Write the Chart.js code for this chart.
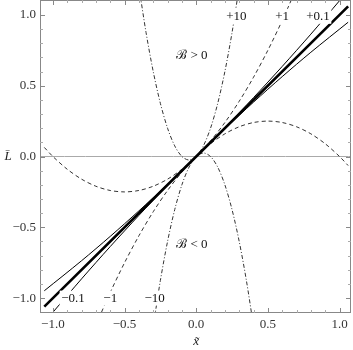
<!DOCTYPE html>
<html><head><meta charset="utf-8">
<script src="https://cdn.jsdelivr.net/npm/chart.js@4.4.1/dist/chart.umd.min.js"></script>
<style>html,body{margin:0;padding:0;background:#fff}#wrap{width:353px;height:350px}</style>
</head><body><div id="wrap"><canvas id="c"></canvas></div>
<script>
// ---- data ----
const majorTicks = [-1, -0.5, 0, 0.5, 1];
const minorTicks = [-0.9, -0.8, -0.7, -0.6, -0.4, -0.3, -0.2, -0.1, 0.1, 0.2, 0.3, 0.4, 0.6, 0.7, 0.8, 0.9];

const zeroX = [-1.2, 1.2];
const zeroY = [0, 0];

const thickX = [-1.06, 1.06];
const thickY = [-1.06, 1.06];

const bPlus01X  = [-1.06, -0.8, -0.6, -0.4, -0.2, 0, 0.2, 0.4, 0.6, 0.8, 1.0, 1.06];
const bPlus01Y  = [-0.948, -0.736, -0.564, -0.384, -0.196, 0, 0.204, 0.416, 0.636, 0.864, 1.1, 1.172];
const bMinus01X = [-1.06, -1.0, -0.8, -0.6, -0.4, -0.2, 0, 0.2, 0.4, 0.6, 0.8, 1.06];
const bMinus01Y = [-1.172, -1.1, -0.864, -0.636, -0.416, -0.204, 0, 0.196, 0.384, 0.564, 0.736, 0.948];

const bPlus1X  = [-1.06, -1.0, -0.9, -0.8, -0.7, -0.6, -0.5, -0.4, -0.3, -0.2, -0.1, 0, 0.1, 0.2, 0.3, 0.4, 0.5, 0.6, 0.7];
const bPlus1Y  = [0.064, 0, -0.09, -0.16, -0.21, -0.24, -0.25, -0.24, -0.21, -0.16, -0.09, 0, 0.11, 0.24, 0.39, 0.56, 0.75, 0.96, 1.19];
const bMinus1X = [-0.7, -0.6, -0.5, -0.4, -0.3, -0.2, -0.1, 0, 0.1, 0.2, 0.3, 0.4, 0.5, 0.6, 0.7, 0.8, 0.9, 1.0, 1.06];
const bMinus1Y = [-1.19, -0.96, -0.75, -0.56, -0.39, -0.24, -0.11, 0, 0.09, 0.16, 0.21, 0.24, 0.25, 0.24, 0.21, 0.16, 0.09, 0, -0.064];

const bPlus10X  = [-0.40, -0.35, -0.30, -0.25, -0.20, -0.15, -0.10, -0.05, 0, 0.05, 0.10, 0.15, 0.20, 0.25, 0.30];
const bPlus10Y  = [1.2, 0.875, 0.6, 0.375, 0.2, 0.075, 0, -0.025, 0, 0.075, 0.2, 0.375, 0.6, 0.875, 1.2];
const bMinus10X = [-0.30, -0.25, -0.20, -0.15, -0.10, -0.05, 0, 0.05, 0.10, 0.15, 0.20, 0.25, 0.30, 0.35, 0.40];
const bMinus10Y = [-1.2, -0.875, -0.6, -0.375, -0.2, -0.075, 0, 0.025, 0, -0.075, -0.2, -0.375, -0.6, -0.875, -1.2];

const labelTexts = ['+10', '+1', '+0.1', '\u22120.1', '\u22121', '\u221210', '\u212C > 0', '\u212C < 0'];
const labelX = [0.28, 0.60, 0.85, -0.86, -0.60, -0.29, -0.03, -0.03];
const labelY = [0.99, 0.99, 0.99, -1.0, -1.0, -1.0, 0.71, -0.62];

// ---- build ----
const pts = (xs, ys) => xs.map((v, i) => ({x: v, y: ys[i]}));
const serif = '"Liberation Serif", "Times New Roman", Times, serif';
const fmt = v => (v < 0 ? '\u2212' : '') + Math.abs(v).toFixed(1);

function ds(xs, ys, width, dash, color, order) {
  return {data: pts(xs, ys), showLine: true, pointRadius: 0, borderColor: color || '#000',
    borderWidth: width, borderDash: dash || [], tension: 0.3, clip: 0, order: order || 0};
}

const overlay = {
  id: 'overlay',
  afterDatasetsDraw(chart) {
    const {ctx, chartArea: a, scales: {x, y}} = chart;
    ctx.save();
    ctx.font = '13px ' + serif;
    ctx.textAlign = 'center';
    ctx.textBaseline = 'middle';
    labelTexts.forEach((t, i) => {
      const px = x.getPixelForValue(labelX[i]), py = y.getPixelForValue(labelY[i]);
      const w = ctx.measureText(t).width;
      ctx.fillStyle = '#fff';
      ctx.fillRect(px - w / 2 - 1.5, py - 7.5, w + 3, 15);
      ctx.fillStyle = '#111';
      ctx.fillText(t, px, py);
    });
    ctx.strokeStyle = '#888';
    ctx.lineWidth = 1;
    ctx.strokeRect(Math.round(a.left) + 0.5, Math.round(a.top) + 0.5, Math.round(a.right - a.left) - 1, Math.round(a.bottom - a.top) - 1);
    const drawTicks = (vals, len) => {
      ctx.beginPath();
      vals.forEach(v => {
        const px = Math.round(x.getPixelForValue(v)) + 0.5;
        ctx.moveTo(px, a.bottom); ctx.lineTo(px, a.bottom - len);
        ctx.moveTo(px, a.top); ctx.lineTo(px, a.top + len);
        const py = Math.round(y.getPixelForValue(v)) + 0.5;
        ctx.moveTo(a.left, py); ctx.lineTo(a.left + len, py);
        ctx.moveTo(a.right, py); ctx.lineTo(a.right - len, py);
      });
      ctx.stroke();
    };
    ctx.strokeStyle = '#888';
    drawTicks(majorTicks, 5);
    ctx.strokeStyle = '#aaa';
    drawTicks(minorTicks, 3);
    ctx.fillStyle = '#222';
    ctx.font = 'italic 13px ' + serif;
    ctx.fillText('L\u0304', 8, y.getPixelForValue(0));
    ctx.fillText('x\u0303', x.getPixelForValue(0), 342);
    ctx.restore();
  }
};

new Chart(document.getElementById('c'), {
  type: 'scatter',
  data: {datasets: [
    ds(zeroX, zeroY, 1, [], '#aaa', 10),
    ds(bPlus10X, bPlus10Y, 1, [4, 2, 1, 2], '#333', 5),
    ds(bMinus10X, bMinus10Y, 1, [4, 2, 1, 2], '#333', 5),
    ds(bPlus1X, bPlus1Y, 1, [4, 3], '#333', 4),
    ds(bMinus1X, bMinus1Y, 1, [4, 3], '#333', 4),
    ds(bPlus01X, bPlus01Y, 1, [], '#000', 3),
    ds(bMinus01X, bMinus01Y, 1, [], '#000', 3),
    ds(thickX, thickY, 2.6, [], '#000', 1)
  ]},
  options: {
    responsive: true, maintainAspectRatio: false, animation: false,
    devicePixelRatio: 1,
    layout: {padding: {top: 0, right: 2, left: 0, bottom: 0}},
    plugins: {legend: {display: false}, tooltip: {enabled: false}},
    scales: {
      x: {type: 'linear', min: -1.09, max: 1.08,
        grid: {display: false, drawTicks: false}, border: {display: false},
        ticks: {font: {family: serif, size: 13}, color: '#333', padding: 4, callback: fmt, autoSkip: false, maxRotation: 0},
        afterBuildTicks: s => { s.ticks = majorTicks.map(v => ({value: v})); },
        afterFit: s => { s.height = 37; s.paddingLeft = 0; s.paddingRight = 0; }
      },
      y: {type: 'linear', min: -1.105, max: 1.105,
        grid: {display: false, drawTicks: false}, border: {display: false},
        ticks: {font: {family: serif, size: 13}, color: '#333', padding: 4, callback: fmt, autoSkip: false},
        afterBuildTicks: s => { s.ticks = majorTicks.map(v => ({value: v})); },
        afterFit: s => { s.width = 40; s.paddingTop = 0; s.paddingBottom = 0; }
      }
    }
  },
  plugins: [overlay]
});
</script></body></html>
